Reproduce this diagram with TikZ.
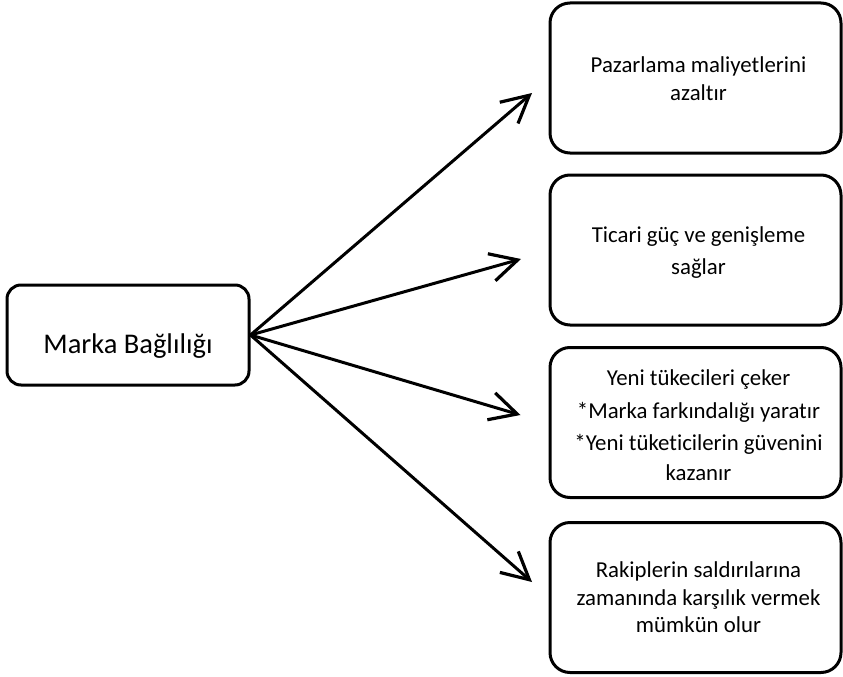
\documentclass[tikz,border=0pt]{standalone}
\usepackage{fontspec}
\setmainfont{Carlito}[Ligatures=NoCommon]
\usetikzlibrary{arrows.meta}

\begin{document}
\begin{tikzpicture}[x=1pt,y=-1pt,
  frame/.style={draw=black,line width=3pt,fill=white,inner sep=0pt},
  srcbox/.style={frame,rounded corners=14pt,minimum width=242pt,minimum height=100pt},
  resbox/.style={frame,rounded corners=20pt,minimum width=291pt,minimum height=150pt},
  resline/.style={anchor=base,inner sep=0pt,font=\fontsize{22.8pt}{27pt}\selectfont},
  link/.style={line width=3pt,line cap=round,
    -{Straight Barb[length=27pt,width=28pt,line width=3.2pt]}}]

  \useasboundingbox (0,0) rectangle (843,677);

  % source node
  \node[srcbox] (src) at (128,335) {};
  \node[anchor=base,inner sep=0pt,font=\fontsize{28.5pt}{34pt}\selectfont]
    (srct) at (128,353) {Marka Bağlılığı};

  % result boxes
  \node[resbox] (r1) at (695.5,78)    {};
  \node[resbox] (r2) at (695.5,250)   {};
  \node[resbox] (r3) at (695.5,422.5) {};
  \node[resbox] (r4) at (695.5,597.5) {};

  % result texts, one node per printed line (baseline positions)
  \foreach \txt/\yy [count=\i] in {Pazarlama maliyetlerini/73, azaltır/100}
    \node[resline] (r1l\i) at (698.5,\yy) {\txt};
  \foreach \txt/\yy [count=\i] in {Ticari güç ve genişleme/242.5, sağlar/274}
    \node[resline] (r2l\i) at (698.5,\yy) {\txt};
  \foreach \txt/\yy [count=\i] in {Yeni tükecileri çeker/385.5,
      *Marka farkındalığı yaratır/418.5,
      *Yeni tüketicilerin güvenini/450.5, kazanır/480}
    \node[resline] (r3l\i) at (698.5,\yy) {\txt};
  \foreach \txt/\yy [count=\i] in {Rakiplerin saldırılarına/577.5,
      zamanında karşılık vermek/605, mümkün olur/632}
    \node[resline] (r4l\i) at (698.5,\yy) {\txt};

  % arrow tips
  \coordinate (tip1) at (532,93);
  \coordinate (tip2) at (521,259);
  \coordinate (tip3) at (520.5,415);
  \coordinate (tip4) at (532,582);

  \foreach \t in {tip1,tip2,tip3,tip4}
    \draw[link] (src.east) -- (\t);
\end{tikzpicture}
\end{document}
